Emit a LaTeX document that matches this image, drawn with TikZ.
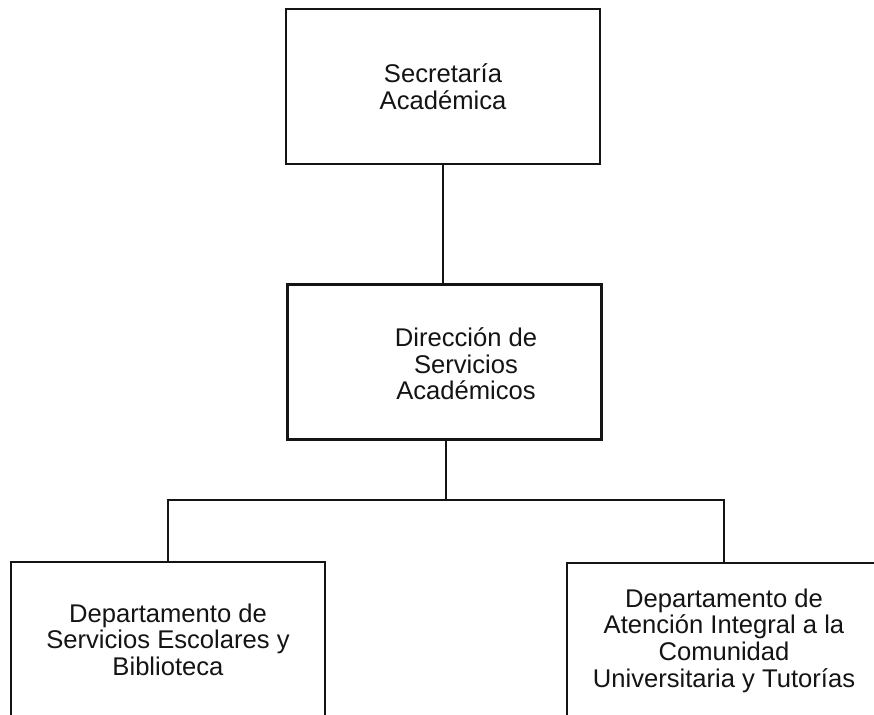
\documentclass[tikz,border=0pt]{standalone}
\usepackage{fontspec}
\setmainfont{Liberation Sans}
\usetikzlibrary{positioning}

\newlength{\du}
\setlength{\du}{0.5pt}

\tikzset{
  unitbox/.style={draw=dialinecolor, line width=1.3pt, fill=white,
    minimum width=314\du, minimum height=155\du, inner sep=0pt,
    align=center, text=dialinecolor,
    font=\fontsize{12.8pt}{13.3pt}\selectfont},
  boxtext/.style={align=center, inner sep=0pt, text=dialinecolor,
    font=\fontsize{12.8pt}{13.3pt}\selectfont},
  orgline/.style={draw=dialinecolor, line width=1pt}
}

\begin{document}
\begin{tikzpicture}
\pgftransformxscale{1.000000}
\pgftransformyscale{-1.000000}
\definecolor{dialinecolor}{rgb}{0.080000, 0.080000, 0.080000}
\useasboundingbox (0\du,0\du) rectangle (874\du,715\du);
\clip (0\du,0\du) rectangle (874\du,715\du);
% upper levels
\node[unitbox] (sa) at (443\du,86.5\du) {Secretaría\\Académica};
\node[unitbox] (dsa) at (444.5\du,362\du) {};
\node[boxtext] (dsatext) at (466\du,364\du) {Dirección de\\Servicios\\Académicos};
% departments
\node[unitbox] (dse) at (168\du,639.5\du) {Departamento de\\Servicios Escolares y\\Biblioteca};
\node[unitbox] (dai) at (724\du,640.5\du) {Departamento de\\Atención Integral a la\\Comunidad\\Universitaria y Tutorías};
% connectors
\coordinate (bus) at (446\du,500\du);
\draw[orgline] (sa.south) -- (sa.south |- dsa.north);
\draw[orgline] (bus |- dsa.south) -- (bus);
\draw[orgline] (dse.north) |- (bus) -| (dai.north);
\end{tikzpicture}
\end{document}
